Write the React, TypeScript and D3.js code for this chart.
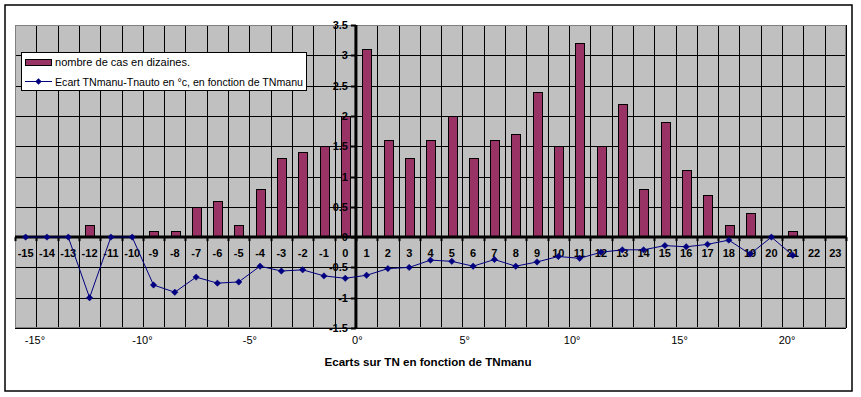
import React from 'react';
import * as d3 from 'd3';

const categories = [-15, -14, -13, -12, -11, -10, -9, -8, -7, -6, -5, -4, -3, -2, -1, 0, 1, 2, 3, 4, 5, 6, 7, 8, 9, 10, 11, 12, 13, 14, 15, 16, 17, 18, 19, 20, 21, 22, 23];
const casDizaines = [0, 0, 0, 0.2, 0, 0, 0.1, 0.1, 0.5, 0.6, 0.2, 0.8, 1.3, 1.4, 1.5, 2.0, 3.1, 1.6, 1.3, 1.6, 2.0, 1.3, 1.6, 1.7, 2.4, 1.5, 3.2, 1.5, 2.2, 0.8, 1.9, 1.1, 0.7, 0.2, 0.4, 0, 0.1, 0, 0];
const ecart: (number | null)[] = [0, 0, 0, -1.0, 0, 0, -0.79, -0.91, -0.66, -0.76, -0.74, -0.48, -0.56, -0.54, -0.64, -0.68, -0.63, -0.52, -0.50, -0.38, -0.40, -0.48, -0.37, -0.48, -0.41, -0.32, -0.35, -0.25, -0.21, -0.21, -0.14, -0.16, -0.12, -0.05, -0.28, 0, -0.30, null, null];
const yTicks = [-1.5, -1, -0.5, 0, 0.5, 1, 1.5, 2, 2.5, 3, 3.5];
const degreeTicks = [-15, -10, -5, 0, 5, 10, 15, 20];
const seriesNames = ['nombre de cas en dizaines.', 'Ecart TNmanu-Tnauto en °c, en fonction de TNmanu'];
const xTitle = 'Ecarts sur TN en fonction de TNmanu';

const FONT = '"Liberation Sans", Arial, sans-serif';
const BAR = '#993366';
const LINE = '#000080';

export default function App() {
  const L = 15, R = 846, T = 25, B = 328;
  const x = d3.scaleBand<number>().domain(categories).range([L, R]).padding(0);
  const y = d3.scaleLinear().domain([-1.5, 3.5]).range([B, T]);
  const xDeg = d3.scaleLinear().domain([-15, 20]).range([35, 787]);
  const bw = x.bandwidth();
  const y0 = y(0);
  const axisX = x(1)!; // value axis crosses between 0 and 1

  const linePts = categories.map((c, i) => ({ c, v: ecart[i] }));
  const lineGen = d3.line<{ c: number; v: number | null }>()
    .defined(d => d.v !== null)
    .x(d => x(d.c)! + bw / 2)
    .y(d => y(d.v as number));

  const diamond = (cx: number, cy: number, r = 3.2) =>
    `M${cx},${cy - r}L${cx + r},${cy}L${cx},${cy + r}L${cx - r},${cy}Z`;

  const boundaries = [...categories.map(c => x(c)!), R];

  return (
    <svg width={861} height={397} style={{ position: 'absolute', left: 0, top: 0, background: '#fff' }}>
      <rect x={5} y={5} width={847} height={386} fill="#fff" stroke="#000" strokeWidth={1.5} />
      {/* plot area */}
      <rect x={L} y={T} width={R - L} height={B - T} fill="#C0C0C0" />
      {yTicks.map(t => (
        <line key={'h' + t} x1={L} x2={R} y1={Math.round(y(t)) + 0.5} y2={Math.round(y(t)) + 0.5} stroke="#000" strokeWidth={1} />
      ))}
      {boundaries.map((b, i) => (
        <line key={'v' + i} x1={Math.round(b) + 0.5} x2={Math.round(b) + 0.5} y1={T} y2={B} stroke="#000" strokeWidth={1} />
      ))}
      <rect x={L + 0.5} y={T + 0.5} width={R - L - 1} height={B - T - 1} fill="none" stroke="#808080" strokeWidth={1} />
      {/* bars */}
      {categories.map((c, i) => casDizaines[i] > 0 && (
        <rect key={'b' + c}
          x={Math.round(x(c)! + bw * 0.3) + 0.5}
          y={Math.round(y(casDizaines[i])) + 0.5}
          width={Math.round(bw * 0.4)}
          height={Math.round(y0 - y(casDizaines[i]))}
          fill={BAR} stroke="#000" strokeWidth={1} />
      ))}
      {/* x axis at zero */}
      <line x1={L} x2={R} y1={y0} y2={y0} stroke="#000" strokeWidth={3} />
      {boundaries.map((b, i) => (
        <rect key={'xt' + i} x={Math.round(b) - 0.5} y={y0} width={2} height={4} fill="#000" />
      ))}
      {categories.map(c => (
        <text key={'cl' + c} x={x(c)! + bw / 2} y={y0 + 20} textAnchor="middle" fontFamily={FONT} fontWeight="bold" fontSize={11}>{c}</text>
      ))}
      {/* y axis */}
      <line x1={axisX} x2={axisX} y1={T} y2={B} stroke="#000" strokeWidth={3} />
      {yTicks.map(t => (
        <rect key={'yt' + t} x={axisX - 5} y={Math.round(y(t)) - 0.5} width={5} height={2} fill="#000" />
      ))}
      {yTicks.map(t => (
        <text key={'yl' + t} x={axisX - 8} y={y(t) + 4} textAnchor="end" fontFamily={FONT} fontWeight="bold" fontSize={11}>{t}</text>
      ))}
      {/* line series */}
      <path d={lineGen(linePts) || ''} fill="none" stroke={LINE} strokeWidth={1} />
      {linePts.filter(d => d.v !== null).map(d => (
        <path key={'m' + d.c} d={diamond(x(d.c)! + bw / 2, y(d.v as number))} fill={LINE} stroke={LINE} strokeWidth={0.5} />
      ))}
      {/* degree labels */}
      {degreeTicks.map(t => (
        <text key={'dg' + t} x={xDeg(t)} y={344} textAnchor="middle" fontFamily={FONT} fontSize={11}>{t}°</text>
      ))}
      <text x={428} y={366} textAnchor="middle" fontFamily={FONT} fontWeight="bold" fontSize={11.5} textLength={207} lengthAdjust="spacingAndGlyphs">{xTitle}</text>
      {/* legend */}
      <rect x={21.5} y={52.5} width={285} height={38} fill="#fff" stroke="#000" strokeWidth={1} />
      <rect x={25.5} y={59.5} width={26} height={6} fill={BAR} stroke="#000" strokeWidth={1} />
      <text x={55} y={66} fontFamily={FONT} fontSize={11} textLength={135} lengthAdjust="spacingAndGlyphs">{seriesNames[0]}</text>
      <line x1={25} x2={52} y1={81.5} y2={81.5} stroke={LINE} strokeWidth={1} />
      <path d={diamond(38.5, 81.5)} fill={LINE} />
      <text x={55} y={85.5} fontFamily={FONT} fontSize={11} textLength={248} lengthAdjust="spacingAndGlyphs">{seriesNames[1]}</text>
    </svg>
  );
}
